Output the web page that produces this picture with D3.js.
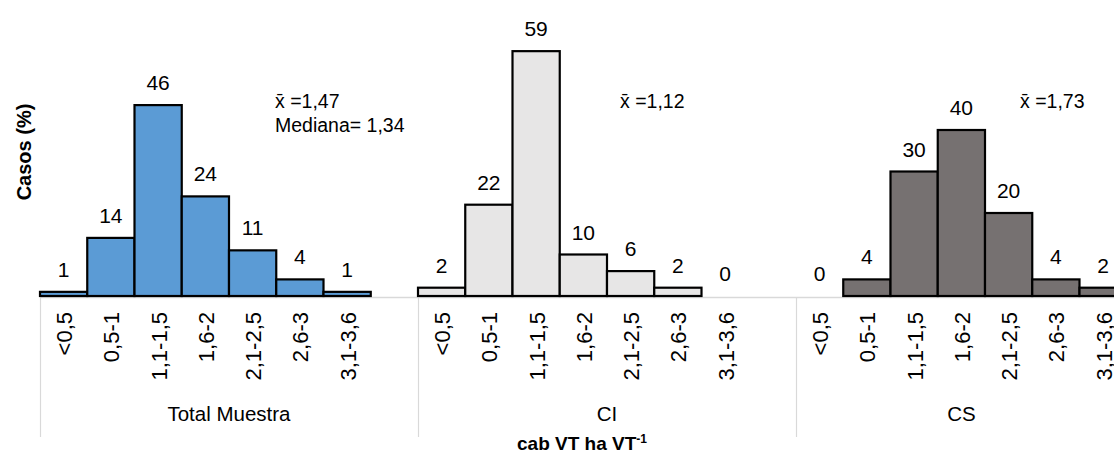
<!DOCTYPE html>
<html>
<head>
<meta charset="utf-8">
<script src="https://cdn.jsdelivr.net/npm/d3@7"></script>
<style>
  html, body { margin: 0; padding: 0; background: #fff; }
  svg { display: block; font-family: "Liberation Sans", Arial, sans-serif; }
</style>
</head>
<body>
<svg id="chart" width="1114" height="455"></svg>
<script>
const categories = ["<0,5", "0,5-1", "1,1-1,5", "1,6-2", "2,1-2,5", "2,6-3", "3,1-3,6"];
const groups = ["Total Muestra", "CI", "CS"];
const totalValues = [1, 14, 46, 24, 11, 4, 1];
const ciValues = [2, 22, 59, 10, 6, 2, 0];
const csValues = [0, 4, 30, 40, 20, 4, 2];
const meanLabels = ["x\u0304 =1,47", "x\u0304 =1,12", "x\u0304 =1,73"];
const medianLabels = ["Mediana= 1,34", "", ""];

const seriesValues = [totalValues, ciValues, csValues];
const colors = ["#5b9bd5", "#e7e6e6", "#767171"];

const svg = d3.select("#chart");
const W = 1114, H = 455;

// layout
const slotsPerGroup = 8;
const nSlots = slotsPerGroup * 2 + categories.length; // last group has no trailing slot
const slotW = 47.25;
const left = 40;
const baseY = 296;

const x = d3.scaleBand().domain(d3.range(nSlots)).range([left, left + nSlots * slotW]).padding(0);
const y = d3.scaleLinear().domain([0, 60]).range([baseY, 47]);

const data = [];
groups.forEach((g, gi) => {
  categories.forEach((c, ci) => {
    data.push({ group: g, gi, cat: c, ci, slot: gi * slotsPerGroup + ci, value: seriesValues[gi][ci] });
  });
});

const groupStart = gi => x(gi * slotsPerGroup);
const groupEnd = gi => gi < groups.length - 1 ? x((gi + 1) * slotsPerGroup) : x.range()[1];

// axis line
svg.append("line")
  .attr("x1", left).attr("x2", W)
  .attr("y1", baseY + 1.5).attr("y2", baseY + 1.5)
  .attr("stroke", "#d9d9d9").attr("stroke-width", 1.3);

// group separator lines
groups.forEach((g, gi) => {
  svg.append("line")
    .attr("x1", groupStart(gi) + 0.5).attr("x2", groupStart(gi) + 0.5)
    .attr("y1", baseY + 2).attr("y2", 437)
    .attr("stroke", "#d9d9d9").attr("stroke-width", 1.2);
});

// bars
svg.append("g").selectAll("rect")
  .data(data.filter(d => d.value > 0))
  .join("rect")
  .attr("x", d => x(d.slot))
  .attr("y", d => y(d.value))
  .attr("width", x.bandwidth())
  .attr("height", d => baseY - y(d.value))
  .attr("fill", d => colors[d.gi])
  .attr("stroke", "#000")
  .attr("stroke-width", 2.2);

// value labels
svg.append("g").selectAll("text")
  .data(data)
  .join("text")
  .attr("x", d => x(d.slot) + x.bandwidth() / 2)
  .attr("y", d => y(d.value) - 15)
  .attr("text-anchor", "middle")
  .attr("font-size", 21)
  .attr("fill", "#000")
  .text(d => d.value);

// category tick labels (rotated)
svg.append("g").selectAll("text")
  .data(data)
  .join("text")
  .attr("transform", d => `translate(${x(d.slot) + x.bandwidth() / 2 + 1},312) rotate(-90)`)
  .attr("text-anchor", "end")
  .attr("dominant-baseline", "central")
  .attr("font-size", 22)
  .attr("fill", "#000")
  .text(d => d.cat);

// group labels
svg.append("g").selectAll("text")
  .data(groups)
  .join("text")
  .attr("x", (g, gi) => (groupStart(gi) + groupEnd(gi)) / 2)
  .attr("y", 421)
  .attr("text-anchor", "middle")
  .attr("font-size", 20.5)
  .attr("fill", "#000")
  .text(g => g);

// mean / median annotations
const annX = [275, 620, 1020];
meanLabels.forEach((m, i) => {
  svg.append("text")
    .attr("x", annX[i]).attr("y", 108)
    .attr("font-size", 19.5)
    .attr("fill", "#000")
    .text(m);
  if (medianLabels[i]) {
    svg.append("text")
      .attr("x", annX[i]).attr("y", 132)
      .attr("font-size", 19.5)
      .attr("fill", "#000")
      .text(medianLabels[i]);
  }
});

// y axis title
svg.append("text")
  .attr("transform", "translate(31,152) rotate(-90)")
  .attr("text-anchor", "middle")
  .attr("font-size", 20)
  .attr("font-weight", "bold")
  .attr("fill", "#000")
  .text("Casos (%)");

// x axis title
const xt = svg.append("text")
  .attr("x", 582).attr("y", 450)
  .attr("text-anchor", "middle")
  .attr("font-size", 19)
  .attr("font-weight", "bold")
  .attr("fill", "#000");
xt.append("tspan").text("cab VT ha VT");
xt.append("tspan").attr("dy", -7).attr("font-size", 12).text("-1");
</script>
</body>
</html>
